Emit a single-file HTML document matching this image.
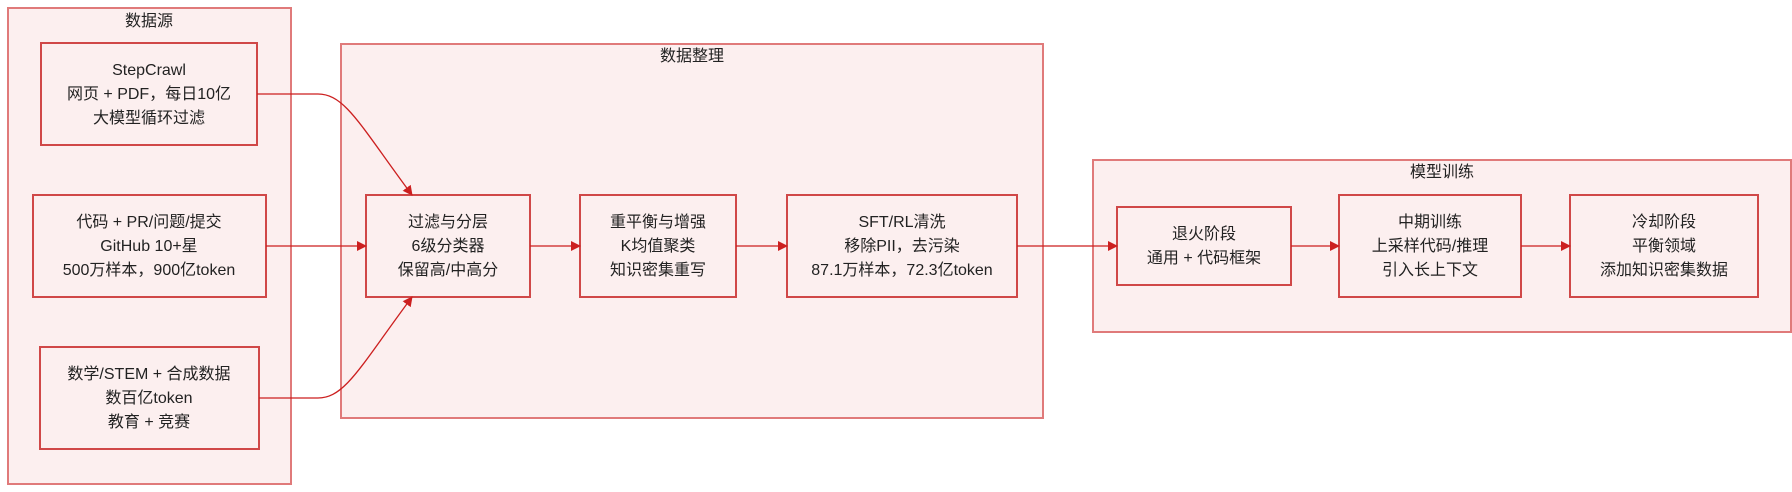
<!DOCTYPE html>
<html><head><meta charset="utf-8"><style>
html,body{margin:0;padding:0;background:#fff;}
svg{display:block;}
text{font-family:"Liberation Sans","Noto Sans CJK SC",sans-serif;font-size:16px;fill:#222;text-anchor:middle;}
.c{fill:#fcefef;stroke:#e07a7a;stroke-width:2;}
.n{fill:#fcefef;stroke:#d04848;stroke-width:2;}
.e{fill:none;stroke:#cc1f1f;stroke-width:1.3;}
</style></head><body>
<svg width="1792" height="492" viewBox="0 0 1792 492" xmlns="http://www.w3.org/2000/svg">
<defs><marker id="a" markerWidth="10" markerHeight="10" refX="9" refY="5" orient="auto" markerUnits="userSpaceOnUse"><path d="M0,0 L10,5 L0,10 z" fill="#cc1f1f"/></marker></defs>
<rect class="c" x="8" y="8" width="283" height="476"/>
<text x="149" y="26">数据源</text>
<rect class="c" x="341" y="44" width="702" height="374"/>
<text x="692" y="61">数据整理</text>
<rect class="c" x="1093" y="160" width="698" height="172"/>
<text x="1442" y="177">模型训练</text>

<rect class="n" x="41" y="43" width="216" height="102"/>
<text x="149" y="75">StepCrawl</text><text x="149" y="99">网页 + PDF，每日10亿</text><text x="149" y="123">大模型循环过滤</text>
<rect class="n" x="33" y="195" width="233" height="102"/>
<text x="149" y="227">代码 + PR/问题/提交</text><text x="149" y="251">GitHub 10+星</text><text x="149" y="275">500万样本，900亿token</text>
<rect class="n" x="40" y="347" width="219" height="102"/>
<text x="149" y="379">数学/STEM + 合成数据</text><text x="149" y="403">数百亿token</text><text x="149" y="427">教育 + 竞赛</text>

<rect class="n" x="366" y="195" width="164" height="102"/>
<text x="448" y="227">过滤与分层</text><text x="448" y="251">6级分类器</text><text x="448" y="275">保留高/中高分</text>
<rect class="n" x="580" y="195" width="156" height="102"/>
<text x="658" y="227">重平衡与增强</text><text x="658" y="251">K均值聚类</text><text x="658" y="275">知识密集重写</text>
<rect class="n" x="787" y="195" width="230" height="102"/>
<text x="902" y="227">SFT/RL清洗</text><text x="902" y="251">移除PII，去污染</text><text x="902" y="275">87.1万样本，72.3亿token</text>

<rect class="n" x="1117" y="207" width="174" height="78"/>
<text x="1204" y="239">退火阶段</text><text x="1204" y="263">通用 + 代码框架</text>
<rect class="n" x="1339" y="195" width="182" height="102"/>
<text x="1430" y="227">中期训练</text><text x="1430" y="251">上采样代码/推理</text><text x="1430" y="275">引入长上下文</text>
<rect class="n" x="1570" y="195" width="188" height="102"/>
<text x="1664" y="227">冷却阶段</text><text x="1664" y="251">平衡领域</text><text x="1664" y="275">添加知识密集数据</text>

<path class="e" marker-end="url(#a)" d="M257,94 L318,94 C345,94 360,125 412,195"/>
<path class="e" marker-end="url(#a)" d="M266,246 L366,246"/>
<path class="e" marker-end="url(#a)" d="M259,398 L318,398 C345,398 360,367 412,297"/>
<path class="e" marker-end="url(#a)" d="M530,246 L580,246"/>
<path class="e" marker-end="url(#a)" d="M736,246 L787,246"/>
<path class="e" marker-end="url(#a)" d="M1017,246 L1117,246"/>
<path class="e" marker-end="url(#a)" d="M1291,246 L1339,246"/>
<path class="e" marker-end="url(#a)" d="M1521,246 L1570,246"/>
</svg>
</body></html>
